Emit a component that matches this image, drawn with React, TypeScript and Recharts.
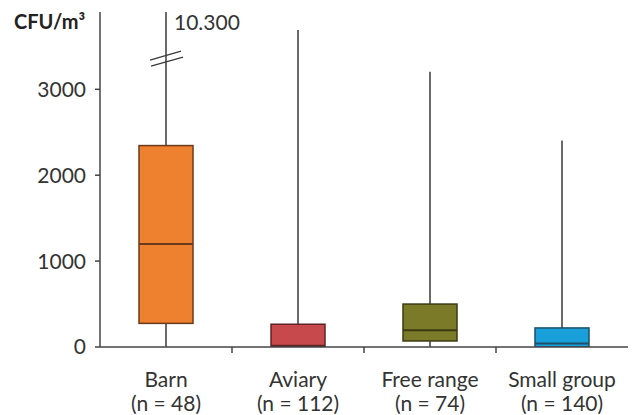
import { ComposedChart, Bar, XAxis, YAxis } from 'recharts';

const categories = ['Barn', 'Aviary', 'Free range', 'Small group'];
const sampleSizes = [48, 112, 74, 140];
const minValues = [0, 0, 0, 0];
const q1Values = [275, 0, 70, 0];
const medianValues = [1200, 15, 195, 42];
const q3Values = [2345, 265, 500, 222];
const maxValues = [10300, 3690, 3205, 2405];
const yTicks = [0, 1000, 2000, 3000];

const Y_MAX = 3900;
const BREAK_AT = 3350;

const fills = ['#EE8130', '#C8494B', '#7A7A29', '#19A0DB'];
const strokes = ['#6B3A1B', '#5E2424', '#3B3B12', '#1E4E68'];
const FONT = 'Lato, "Open Sans", sans-serif';

const data = categories.map((name, i) => ({
  name,
  n: sampleSizes[i],
  min: minValues[i],
  q1: q1Values[i],
  median: medianValues[i],
  q3: q3Values[i],
  max: maxValues[i]
}));

const BoxShape = (props: any) => {
  const { x, y, width, height, payload, index } = props;
  const lo = payload.min;
  const hi = Math.min(payload.max, Y_MAX);
  const px = (v: number) => y + (height * (hi - v)) / (hi - lo);
  const cx = x + width / 2;
  const broken = payload.max > Y_MAX;
  const yb = px(BREAK_AT);
  return (
    <g>
      <line x1={cx} x2={cx} y1={px(hi)} y2={px(lo)} stroke="#3a3a3a" strokeWidth={1.5} />
      <rect
        x={x}
        y={px(payload.q3)}
        width={width}
        height={px(payload.q1) - px(payload.q3)}
        fill={fills[index]}
        stroke={strokes[index]}
        strokeWidth={1.5}
      />
      <line x1={x} x2={x + width} y1={px(payload.median)} y2={px(payload.median)} stroke={strokes[index]} strokeWidth={2} />
      {broken && (
        <g>
          <line x1={cx - 16} y1={yb + 1} x2={cx + 15} y2={yb - 8} stroke="#3a3a3a" strokeWidth={1.3} />
          <line x1={cx - 15} y1={yb + 7} x2={cx + 17} y2={yb - 2} stroke="#3a3a3a" strokeWidth={1.3} />
          <text x={cx + 8} y={px(hi) + 18} fontSize={21} fill="#333" fontFamily={FONT}>
            {payload.max.toLocaleString('de-DE')}
          </text>
        </g>
      )}
    </g>
  );
};

const CategoryTick = (props: any) => {
  const { x, y, payload, index, width, visibleTicksCount } = props;
  const band = width / visibleTicksCount;
  const row = data[index];
  return (
    <g>
      {index > 0 && (
        <line x1={x - band / 2} x2={x - band / 2} y1={y} y2={y + 6} stroke="#444" strokeWidth={1.5} />
      )}
      <text x={x} y={y + 40} textAnchor="middle" fontSize={21} fill="#333" fontFamily={FONT}>
        {payload.value}
      </text>
      <text x={x} y={y + 64} textAnchor="middle" fontSize={21} fill="#333" fontFamily={FONT}>
        {`(n = ${row ? row.n : ''})`}
      </text>
    </g>
  );
};

export default function App() {
  return (
    <div style={{ position: 'absolute', left: 0, top: 0, width: 636, height: 415, background: '#fff' }}>
      <ComposedChart width={636} height={415} data={data} margin={{ top: 12, right: 8, left: 0, bottom: 0 }}>
        <XAxis
          dataKey="name"
          axisLine={{ stroke: '#444', strokeWidth: 1.5 }}
          tickLine={false}
          tickSize={0}
          tickMargin={0}
          interval={0}
          height={68}
          tick={<CategoryTick />}
        />
        <YAxis
          width={100}
          domain={[0, Y_MAX]}
          ticks={yTicks}
          interval={0}
          axisLine={{ stroke: '#444', strokeWidth: 1.5 }}
          tickLine={{ stroke: '#444', strokeWidth: 1.5 }}
          tickSize={5}
          tickMargin={9}
          tick={{ fontSize: 21, fill: '#333', fontFamily: FONT }}
          allowDataOverflow
        />
        <Bar
          dataKey={(d: any) => [d.min, Math.min(d.max, Y_MAX)]}
          barSize={54}
          shape={<BoxShape />}
          isAnimationActive={false}
        />
        <text x={14} y={29} fontSize={20} fontWeight="bold" fill="#222" fontFamily={FONT}>
          CFU/m³
        </text>
      </ComposedChart>
    </div>
  );
}
